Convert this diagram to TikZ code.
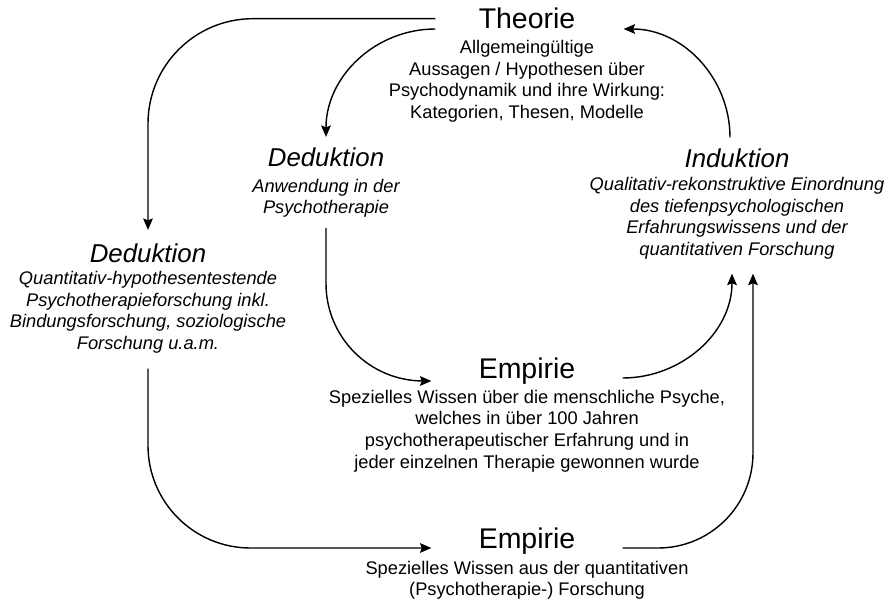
\documentclass[tikz,border=0pt]{standalone}
\usepackage{fontspec}
\setmainfont{Liberation Sans}
\usepackage{tikz}
\usetikzlibrary{arrows.meta, positioning}

\begin{document}
\begin{tikzpicture}[x=0.02cm, y=-0.02cm,
  titel/.style={font=\fontsize{16.2}{19}\selectfont, inner sep=0pt, text depth=0pt},
  ititel/.style={titel, font=\fontsize{14.7}{17}\selectfont\itshape},
  txt/.style={font=\fontsize{10.4}{12.3}\selectfont, align=center, inner sep=0pt},
  itxt/.style={txt, font=\fontsize{10.4}{12.3}\selectfont\itshape},
  pfeil/.style={line width=0.8pt, -{Stealth[length=6.5pt, width=5.5pt, inset=1pt]}}]
\useasboundingbox (0,0) rectangle (889,601);

% Theorie oben
\node (theorie) [titel, anchor=base] at (527,29) {Theorie};
\node (theorieTxt) [txt, below=6pt of theorie] {Allgemeingültige\\Aussagen / Hypothesen über\\Psychodynamik und ihre Wirkung:\\Kategorien, Thesen, Modelle};

% Deduktion mitte
\node (dedA) [ititel, anchor=base] at (326,167) {Deduktion};
\node (dedATxt) [itxt, below=6.5pt of dedA] {Anwendung in der\\Psychotherapie};

% Induktion
\node (ind) [ititel, anchor=base] at (737,168) {Induktion};
\node (indTxt) [itxt, below=5pt of ind] {Qualitativ-rekonstruktive Einordnung\\des tiefenpsychologischen\\Erfahrungswissens und der\\quantitativen Forschung};

% Deduktion links
\node (dedB) [ititel, anchor=base] at (148,262) {Deduktion};
\node (dedBTxt) [itxt, below=5pt of dedB] {Quantitativ-hypothesentestende\\Psychotherapieforschung inkl.\\Bindungsforschung, soziologische\\Forschung u.a.m.};

% Empirie mitte
\node (empA) [titel, anchor=base] at (527,378) {Empirie};
\node (empATxt) [txt, below=6.5pt of empA] {Spezielles Wissen über die menschliche Psyche,\\welches in über 100 Jahren\\psychotherapeutischer Erfahrung und in\\jeder einzelnen Therapie gewonnen wurde};

% Empirie unten
\node (empB) [titel, anchor=base] at (527,548) {Empirie};
\node (empBTxt) [txt, below=7pt of empB] {Spezielles Wissen aus der quantitativen\\(Psychotherapie-) Forschung};

% Pfeile
\draw[pfeil, rounded corners=2.1cm] ([xshift=-0.86cm]theorie.west) -| ([yshift=0.26cm]dedB.north);
\draw[pfeil] ([xshift=-0.86cm]theorie.base west) to[out=180,in=90] ([yshift=0.22cm]dedA.north);
\draw[pfeil, rounded corners=1.95cm] ([yshift=-0.2cm]dedATxt.south) |- ([xshift=-0.94cm,yshift=-0.06cm]empA.base west);
\draw[pfeil] ([xshift=0.94cm]empA.base east) to[out=0,in=-90] ([xshift=-0.1cm,yshift=-0.28cm]indTxt.south);
\draw[pfeil] ([xshift=-0.14cm,yshift=0.23cm]ind.north) to[out=90,in=0] ([xshift=0.96cm]theorie.base east);
\draw[pfeil, rounded corners=2.05cm] ([yshift=-0.3cm]dedBTxt.south) |- ([xshift=-0.94cm]empB.base west);
\draw[pfeil, rounded corners=1.9cm] ([xshift=0.94cm]empB.base east) -| ([xshift=0.32cm,yshift=-0.28cm]indTxt.south);
\end{tikzpicture}
\end{document}
